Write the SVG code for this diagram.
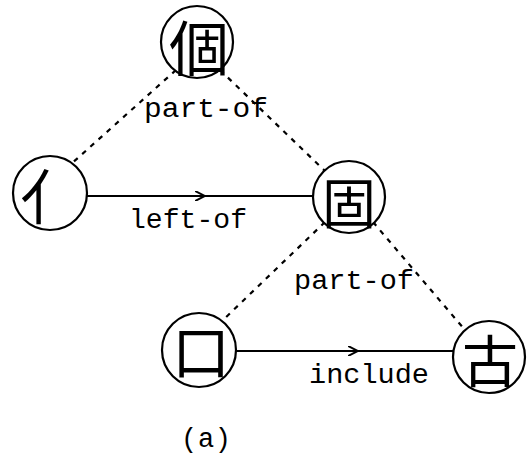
<svg xmlns="http://www.w3.org/2000/svg" width="527" height="463" viewBox="0 0 527 463">
<style>
.node circle{fill:#fff;stroke:#000;stroke-width:2.2}
.kanji{font-family:"Noto Sans CJK JP","Noto Sans CJK SC",sans-serif;text-anchor:middle;dominant-baseline:central;fill:#000}
.lbl{font-family:"Liberation Mono","DejaVu Sans Mono",monospace;font-size:27px;fill:#000}
.dash{stroke:#000;stroke-width:2.2;stroke-dasharray:5 6;fill:none}
.solid{stroke:#000;stroke-width:2;fill:none}
</style>
<defs>
<marker id="chev" viewBox="0 0 12 10" refX="10" refY="5" markerWidth="12" markerHeight="10" markerUnits="userSpaceOnUse" orient="auto">
<path d="M0,0 L10,5 L0,10" fill="none" stroke="#000" stroke-width="2"/>
</marker>
</defs>
<g id="connectors">
<line class="dash" x1="176" y1="70" x2="70" y2="165"/>
<line class="dash" x1="220" y1="70" x2="325" y2="171"/>
<line class="dash" x1="325" y1="222" x2="222" y2="321"/>
<line class="dash" x1="373" y1="222" x2="465" y2="330"/>
<path class="solid" d="M87,196 L205,196" marker-end="url(#chev)"/>
<path class="solid" d="M205,196 L313,196"/>
<path class="solid" d="M236,351 L358,351" marker-end="url(#chev)"/>
<path class="solid" d="M358,351 L454,351"/>
<text class="lbl" x="144" y="117" textLength="124" lengthAdjust="spacingAndGlyphs">part-of</text>
<text class="lbl" x="129" y="228" textLength="118" lengthAdjust="spacingAndGlyphs">left-of</text>
<text class="lbl" x="294" y="289" textLength="120" lengthAdjust="spacingAndGlyphs">part-of</text>
<text class="lbl" x="309" y="383" textLength="120" lengthAdjust="spacingAndGlyphs">include</text>
</g>
<g id="node-ko" class="node"><circle cx="197" cy="42" r="36"/><text class="kanji" x="199" y="44" font-size="60">個</text></g>
<g id="node-nin" class="node"><circle cx="50" cy="193" r="37"/><text class="kanji" x="50" y="193" font-size="60">亻</text></g>
<g id="node-ko2" class="node"><circle cx="349" cy="197" r="36"/><text class="kanji" x="349" y="200" font-size="54">固</text></g>
<g id="node-kuchi" class="node"><circle cx="199" cy="350" r="37"/><text class="kanji" x="201" y="349" font-size="58">口</text></g>
<g id="node-furu" class="node"><circle cx="489" cy="357" r="36"/><text class="kanji" x="490" y="357" font-size="56">古</text></g>
<text class="lbl" x="181" y="447" textLength="50" lengthAdjust="spacing">(a)</text>
</svg>
